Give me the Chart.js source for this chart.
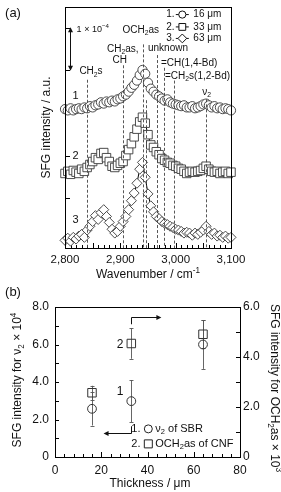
<!DOCTYPE html>
<html>
<head>
<meta charset="utf-8">
<script src="https://cdn.jsdelivr.net/npm/chart.js@4.4.1/dist/chart.umd.min.js"></script>
<style>
  html, body { margin: 0; padding: 0; background: #fff; }
  #wrap { position: relative; width: 281px; height: 492px; }
  canvas { position: absolute; left: 0; top: 0; }
</style>
</head>
<body>
<div id="wrap">
  <canvas id="spectra" width="281" height="492"></canvas>
  <canvas id="thickness" width="281" height="492"></canvas>
</div>
<script>
// (a) SFG spectra, intensity in units of 1e-4 (offset per film)
const wavenumbers = [2800, 2805, 2810, 2815, 2820, 2825, 2830, 2835, 2840, 2845,
  2850, 2855, 2860, 2865, 2870, 2875, 2880, 2885, 2890, 2895,
  2900, 2905, 2910, 2915, 2920, 2925, 2930, 2935, 2940, 2945,
  2950, 2955, 2960, 2965, 2970, 2975, 2980, 2985, 2990, 2995,
  3000, 3005, 3010, 3015, 3020, 3025, 3030, 3035, 3040, 3045,
  3050, 3055, 3060, 3065, 3070, 3075, 3080, 3085, 3090, 3095, 3100];
const spec16 = [3.09, 3.06, 3.11, 3.06, 3.09, 3.11, 3.09, 3.13, 3.11, 3.16,
  3.13, 3.18, 3.20, 3.25, 3.22, 3.27, 3.25, 3.29, 3.27, 3.32,
  3.34, 3.39, 3.43, 3.50, 3.59, 3.66, 3.76, 3.89, 4.01, 3.92,
  3.71, 3.57, 3.50, 3.43, 3.39, 3.34, 3.29, 3.32, 3.25, 3.22,
  3.20, 3.18, 3.16, 3.18, 3.13, 3.13, 3.16, 3.11, 3.13, 3.16,
  3.20, 3.22, 3.18, 3.13, 3.16, 3.11, 3.13, 3.09, 3.11, 3.09, 3.06];
const spec33 = [1.58, 1.63, 1.56, 1.65, 1.61, 1.58, 1.68, 1.63, 1.72, 1.79,
  1.86, 1.95, 1.91, 2.05, 2.07, 1.95, 1.86, 1.75, 1.72, 1.77,
  1.82, 1.86, 2.00, 2.14, 2.28, 2.44, 2.62, 2.79, 2.90, 2.76,
  2.49, 2.25, 2.19, 2.09, 2.02, 1.93, 1.89, 1.84, 1.82, 1.77,
  1.75, 1.70, 1.68, 1.63, 1.58, 1.61, 1.63, 1.61, 1.63, 1.65,
  1.70, 1.75, 1.68, 1.63, 1.61, 1.63, 1.58, 1.61, 1.63, 1.58, 1.61];
const spec63 = [0.01, 0.06, -0.01, 0.08, 0.04, 0.11, 0.15, 0.08, 0.25, 0.34,
  0.45, 0.59, 0.50, 0.66, 0.73, 0.57, 0.43, 0.27, 0.18, 0.22,
  0.34, 0.45, 0.57, 0.73, 0.94, 1.12, 1.35, 1.68, 1.84, 1.49,
  1.10, 0.82, 0.68, 0.57, 0.52, 0.45, 0.41, 0.38, 0.34, 0.31,
  0.27, 0.25, 0.22, 0.18, 0.20, 0.18, 0.13, 0.18, 0.15, 0.20,
  0.25, 0.34, 0.22, 0.15, 0.18, 0.11, 0.13, 0.08, 0.11, 0.06, 0.08];
const bandCenters = [2840, 2904, 2941, 2946, 2967, 2979, 2997, 3055];
const filmLabels = ['16 \u03bcm', '33 \u03bcm', '63 \u03bcm'];

// (b) intensity vs thickness
const thickness = [16, 33, 64];
const nu2SBR = [2.57, 2.98, 6.0];      // x 1e4, left axis
const nu2Err = [0.89, 1.12, 1.3];
const och2CNF = [2.57, 4.54, 4.91];    // x 1e3, right axis
const och2Err = [0.28, 0.61, 0.56];

const FONT = '"Liberation Sans", Arial, Helvetica, sans-serif';
Chart.defaults.font.family = FONT;
Chart.defaults.color = '#111';

// "CH_{2}s" -> subscript, "10^{-4}" -> superscript
function richParts(str) {
  const parts = [];
  const re = /([_^])\{([^}]*)\}/g;
  let last = 0, m;
  while ((m = re.exec(str))) {
    if (m.index > last) parts.push({ t: str.slice(last, m.index), k: 0 });
    parts.push({ t: m[2], k: m[1] === '_' ? -1 : 1 });
    last = re.lastIndex;
  }
  if (last < str.length) parts.push({ t: str.slice(last), k: 0 });
  return parts;
}

function drawRich(ctx, str, x, y, size, align) {
  const parts = richParts(str);
  let w = 0;
  parts.forEach(p => {
    ctx.font = (p.k ? size * 0.68 : size) + 'px ' + FONT;
    p.w = ctx.measureText(p.t).width;
    w += p.w;
  });
  let cx = align === 'center' ? x - w / 2 : align === 'right' ? x - w : x;
  ctx.textBaseline = 'middle';
  ctx.textAlign = 'left';
  ctx.fillStyle = '#111';
  parts.forEach(p => {
    ctx.font = (p.k ? size * 0.68 : size) + 'px ' + FONT;
    const dy = p.k === -1 ? size * 0.3 : p.k === 1 ? -size * 0.33 : 0;
    ctx.fillText(p.t, cx, y + dy);
    cx += p.w;
  });
}

function drawRotated(ctx, str, x, y, size, angle) {
  ctx.save();
  ctx.translate(x, y);
  ctx.rotate(angle);
  drawRich(ctx, str, 0, 0, size, 'center');
  ctx.restore();
}

function marker(ctx, style, x, y, r, fill) {
  ctx.beginPath();
  if (style === 'circle') ctx.arc(x, y, r, 0, Math.PI * 2);
  else if (style === 'rect') ctx.rect(x - r, y - r, 2 * r, 2 * r);
  else { ctx.moveTo(x, y - r); ctx.lineTo(x + r, y); ctx.lineTo(x, y + r); ctx.lineTo(x - r, y); ctx.closePath(); }
  if (fill) { ctx.fillStyle = fill; ctx.fill(); }
  ctx.stroke();
}

function arrowHead(ctx, x, y, dir) {
  // dir: 'up' | 'down' | 'left' | 'right'
  const L = 5, W = 2.5;
  ctx.beginPath();
  if (dir === 'up') { ctx.moveTo(x, y); ctx.lineTo(x - W, y + L); ctx.lineTo(x + W, y + L); }
  if (dir === 'down') { ctx.moveTo(x, y); ctx.lineTo(x - W, y - L); ctx.lineTo(x + W, y - L); }
  if (dir === 'left') { ctx.moveTo(x, y); ctx.lineTo(x + L, y - W); ctx.lineTo(x + L, y + W); }
  if (dir === 'right') { ctx.moveTo(x, y); ctx.lineTo(x - L, y - W); ctx.lineTo(x - L, y + W); }
  ctx.closePath();
  ctx.fillStyle = '#111';
  ctx.fill();
}

function series(values, style, r) {
  return {
    data: wavenumbers.map((w, i) => ({ x: w, y: values[i] })),
    showLine: true,
    borderColor: '#000',
    borderWidth: 1,
    pointStyle: style,
    pointRadius: r,
    pointBackgroundColor: '#fff',
    pointBorderColor: '#3a3a3a',
    pointBorderWidth: 0.9,
    clip: false,
  };
}

const spectraDecor = {
  id: 'spectraDecor',
  beforeDatasetsDraw(chart) {
    const { ctx, chartArea: a, scales: { x, y } } = chart;
    ctx.save();
    ctx.strokeStyle = '#000';
    ctx.lineWidth = 1;
    ctx.beginPath();
    [1, 2, 3, 4, 5].forEach(v => {
      const py = Math.round(y.getPixelForValue(v)) + 0.5;
      ctx.moveTo(a.left, py);
      ctx.lineTo(a.left + 5, py);
    });
    for (let w = 2800; w <= 3100; w += 10) {
      const px = Math.round(x.getPixelForValue(w)) + 0.5;
      ctx.moveTo(px, a.bottom);
      ctx.lineTo(px, a.bottom - (w % 50 === 0 ? 5 : 3));
    }
    ctx.stroke();
    ctx.restore();
  },
  afterDatasetsDraw(chart) {
    const { ctx, chartArea: a, scales: { x, y } } = chart;
    const X = w => x.getPixelForValue(w);
    const Y = v => y.getPixelForValue(v);
    ctx.save();
    // frame
    ctx.strokeStyle = '#000';
    ctx.lineWidth = 1;
    ctx.strokeRect(Math.round(a.left) + 0.5, Math.round(a.top) + 0.5,
      Math.round(a.right - a.left), Math.round(a.bottom - a.top));

    // band assignment lines
    const bandTops = [3.78, 4.12, 4.61, 3.3, 4.36, 4.06, 3.76, 3.32];
    ctx.strokeStyle = '#444';
    ctx.lineWidth = 0.9;
    ctx.setLineDash([3, 2]);
    bandCenters.forEach((w, i) => {
      const px = Math.round(X(w)) + 0.5;
      ctx.beginPath();
      ctx.moveTo(px, Y(bandTops[i]));
      ctx.lineTo(px, a.bottom);
      ctx.stroke();
    });
    ctx.setLineDash([]);

    // band labels
    drawRich(ctx, 'CH_{2}s', X(2847), Y(3.97), 10, 'center');
    drawRich(ctx, 'CH_{2}as,', X(2876), Y(4.49), 10, 'left');
    drawRich(ctx, 'CH', X(2899), Y(4.23), 10, 'center');
    drawRich(ctx, 'OCH_{2}as', X(2937), Y(4.94), 10, 'center');
    drawRich(ctx, 'unknown', X(2950), Y(4.51), 10, 'left');
    drawRich(ctx, '=CH(1,4-Bd)', X(2973.5), Y(4.17), 10, 'left');
    drawRich(ctx, '=CH_{2}s(1,2-Bd)', X(2980.7), Y(3.87), 10, 'left');
    drawRich(ctx, '\u03bd_{2}', X(3056), Y(3.48), 10, 'center');

    // spectrum numbers
    drawRich(ctx, '1', X(2819), Y(3.41), 11, 'center');
    drawRich(ctx, '2', X(2819), Y(1.98), 11, 'center');
    drawRich(ctx, '3', X(2819), Y(0.48), 11, 'center');

    // scale bar 1e-4
    const sx = Math.round(X(2809)) + 0.5;
    ctx.strokeStyle = '#111';
    ctx.lineWidth = 1;
    ctx.beginPath();
    ctx.moveTo(sx, Y(4) - 3);
    ctx.lineTo(sx, Y(5) + 3);
    ctx.stroke();
    arrowHead(ctx, sx, Y(5) - 0.5, 'up');
    arrowHead(ctx, sx, Y(4) + 0.5, 'down');
    drawRich(ctx, '1 \u00d7 10^{\u22124}', X(2821), Y(4.96), 9, 'left');

    // legend
    const styles = ['circle', 'rect', 'diamond'];
    const sizes = [3.6, 3.4, 4.4];
    const rows = [5.31, 5.02, 4.75];
    rows.forEach((v, i) => {
      const py = Y(v);
      drawRich(ctx, (i + 1) + '.', X(2983), py, 10, 'left');
      const cx = X(3012);
      ctx.strokeStyle = '#111';
      ctx.lineWidth = 1;
      ctx.beginPath();
      ctx.moveTo(cx - 6.5, py);
      ctx.lineTo(cx + 6.5, py);
      ctx.stroke();
      marker(ctx, styles[i], cx, py, sizes[i], '#fff');
      drawRich(ctx, filmLabels[i], X(3032), py, 10, 'left');
    });

    // titles
    drawRich(ctx, '(a)', 13, 13, 13, 'center');
    drawRich(ctx, 'Wavenumber / cm^{-1}', (a.left + a.right) / 2, 275, 12, 'center');
    drawRotated(ctx, 'SFG intensity / a.u.', 47, (a.top + a.bottom) / 2, 12, -Math.PI / 2);
    ctx.restore();
  }
};

new Chart(document.getElementById('spectra'), {
  type: 'scatter',
  data: {
    datasets: [
      series(spec16, 'circle', 4.6),
      series(spec33, 'rect', 6),
      series(spec63, 'rectRot', 5),
    ],
  },
  options: {
    responsive: false,
    animation: false,
    events: [],
    layout: { padding: { left: 0, top: 3, right: 50, bottom: 214 } },
    plugins: { legend: { display: false }, tooltip: { enabled: false } },
    scales: {
      x: {
        type: 'linear',
        min: 2800,
        max: 3100,
        afterFit: s => { s.height = 30; },
        grid: { display: false, drawTicks: false },
        border: { display: false },
        ticks: {
          stepSize: 100,
          padding: 5,
          color: '#111',
          font: { size: 11.5 },
          callback: v => v.toLocaleString('en-US'),
        },
      },
      y: {
        min: -0.17,
        max: 5.49,
        afterFit: s => { s.width = 65; },
        grid: { display: false, drawTicks: false },
        border: { display: false },
        ticks: { display: false },
      },
    },
  },
  plugins: [spectraDecor],
});

const thicknessDecor = {
  id: 'thicknessDecor',
  beforeDatasetsDraw(chart) {
    const { ctx, chartArea: a, scales: { x, y, y2 } } = chart;
    ctx.save();
    ctx.strokeStyle = '#000';
    ctx.lineWidth = 1;
    ctx.strokeRect(Math.round(a.left) + 0.5, Math.round(a.top) + 0.5,
      Math.round(a.right - a.left), Math.round(a.bottom - a.top));
    ctx.beginPath();
    for (let v = 1; v < 8; v++) {
      const py = Math.round(y.getPixelForValue(v)) + 0.5;
      ctx.moveTo(a.left, py);
      ctx.lineTo(a.left + 4, py);
    }
    for (let v = 1; v < 6; v++) {
      const py = Math.round(y2.getPixelForValue(v)) + 0.5;
      ctx.moveTo(a.right, py);
      ctx.lineTo(a.right - 4, py);
    }
    for (let t = 4; t < 80; t += 4) {
      const px = Math.round(x.getPixelForValue(t)) + 0.5;
      ctx.moveTo(px, a.bottom);
      ctx.lineTo(px, a.bottom - (t % 20 === 0 ? 5 : 3));
    }
    ctx.stroke();

    // error bars
    ctx.strokeStyle = '#555';
    ctx.lineWidth = 0.9;
    chart.data.datasets.forEach((ds, di) => {
      const scale = chart.scales[ds.yAxisID];
      chart.getDatasetMeta(di).data.forEach((pt, i) => {
        const v = ds.data[i].y;
        const e = ds.errors[i];
        const px = Math.round(pt.x) + 0.5;
        const top = scale.getPixelForValue(v + e);
        const bot = scale.getPixelForValue(v - e);
        ctx.beginPath();
        ctx.moveTo(px, top);
        ctx.lineTo(px, bot);
        ctx.moveTo(px - 2, Math.round(top) + 0.5);
        ctx.lineTo(px + 2, Math.round(top) + 0.5);
        ctx.moveTo(px - 2, Math.round(bot) + 0.5);
        ctx.lineTo(px + 2, Math.round(bot) + 0.5);
        ctx.stroke();
      });
    });
    ctx.restore();
  },
  afterDatasetsDraw(chart) {
    const { ctx, chartArea: a, scales: { x, y } } = chart;
    const X = t => x.getPixelForValue(t);
    const Y = v => y.getPixelForValue(v);
    ctx.save();
    ctx.strokeStyle = '#111';
    ctx.lineWidth = 1;

    // arrow to right axis
    const ax = Math.round(X(33)) + 0.5;
    ctx.beginPath();
    ctx.moveTo(ax, Y(7.08));
    ctx.lineTo(ax, Math.round(Y(7.45)) + 0.5);
    ctx.lineTo(X(46) - 4, Math.round(Y(7.45)) + 0.5);
    ctx.stroke();
    arrowHead(ctx, X(46), Math.round(Y(7.45)) + 0.5, 'right');

    // arrow to left axis
    ctx.beginPath();
    ctx.moveTo(ax, Y(1.64));
    ctx.lineTo(ax, Math.round(Y(1.29)) + 0.5);
    ctx.lineTo(X(21) + 4, Math.round(Y(1.29)) + 0.5);
    ctx.stroke();
    arrowHead(ctx, X(21), Math.round(Y(1.29)) + 0.5, 'left');

    drawRich(ctx, '2', X(28.1), Y(6.01), 12, 'center');
    drawRich(ctx, '1', X(28.1), Y(3.46), 12, 'center');

    // legend
    const lx = X(33);
    drawRich(ctx, '1.', lx, Y(1.5), 11, 'left');
    ctx.strokeStyle = '#222';
    marker(ctx, 'circle', lx + 17, Y(1.5), 4, null);
    drawRich(ctx, '\u03bd_{2} of SBR', lx + 24, Y(1.5), 11, 'left');
    drawRich(ctx, '2.', lx, Y(0.7), 11, 'left');
    marker(ctx, 'rect', lx + 17, Y(0.7), 4, null);
    drawRich(ctx, 'OCH_{2}as of CNF', lx + 24, Y(0.7), 11, 'left');

    // titles
    drawRich(ctx, '(b)', 13, 292, 13, 'center');
    drawRich(ctx, 'Thickness / \u03bcm', 150, 484, 12, 'center');
    drawRotated(ctx, 'SFG intensity for \u03bd_{2} \u00d7 10^{4}', 18, 380, 12, -Math.PI / 2);
    drawRotated(ctx, 'SFG intensity for OCH_{2}as \u00d7 10^{3}', 274, 388, 12, Math.PI / 2);
    ctx.restore();
  }
};

const fmt = v => (v === 0 ? '0' : v.toFixed(1));

new Chart(document.getElementById('thickness'), {
  type: 'scatter',
  data: {
    datasets: [
      {
        data: thickness.map((t, i) => ({ x: t, y: nu2SBR[i] })),
        errors: nu2Err,
        yAxisID: 'y',
        pointStyle: 'circle',
        pointRadius: 4.4,
        pointBackgroundColor: 'rgba(0,0,0,0)',
        pointBorderColor: '#333',
        pointBorderWidth: 1,
      },
      {
        data: thickness.map((t, i) => ({ x: t, y: och2CNF[i] })),
        errors: och2Err,
        yAxisID: 'y2',
        pointStyle: 'rect',
        pointRadius: 6,
        pointBackgroundColor: 'rgba(0,0,0,0)',
        pointBorderColor: '#333',
        pointBorderWidth: 1,
      },
    ],
  },
  options: {
    responsive: false,
    animation: false,
    events: [],
    layout: { padding: { left: 0, top: 307, right: 0, bottom: 5 } },
    plugins: { legend: { display: false }, tooltip: { enabled: false } },
    scales: {
      x: {
        type: 'linear',
        min: 0,
        max: 80,
        afterFit: s => { s.height = 30; },
        grid: { display: false, drawTicks: false },
        border: { display: false },
        ticks: { stepSize: 20, padding: 6, color: '#111', font: { size: 12 } },
      },
      y: {
        position: 'left',
        min: 0,
        max: 8,
        afterFit: s => { s.width = 55; },
        grid: { display: false, drawTicks: false },
        border: { display: false },
        ticks: { stepSize: 2, padding: 6, color: '#111', font: { size: 12 }, callback: fmt },
      },
      y2: {
        position: 'right',
        min: 0,
        max: 6,
        afterFit: s => { s.width = 41; },
        grid: { display: false, drawTicks: false },
        border: { display: false },
        ticks: { stepSize: 2, padding: 3, color: '#111', font: { size: 12 }, callback: fmt },
      },
    },
  },
  plugins: [thicknessDecor],
});
</script>
</body>
</html>
